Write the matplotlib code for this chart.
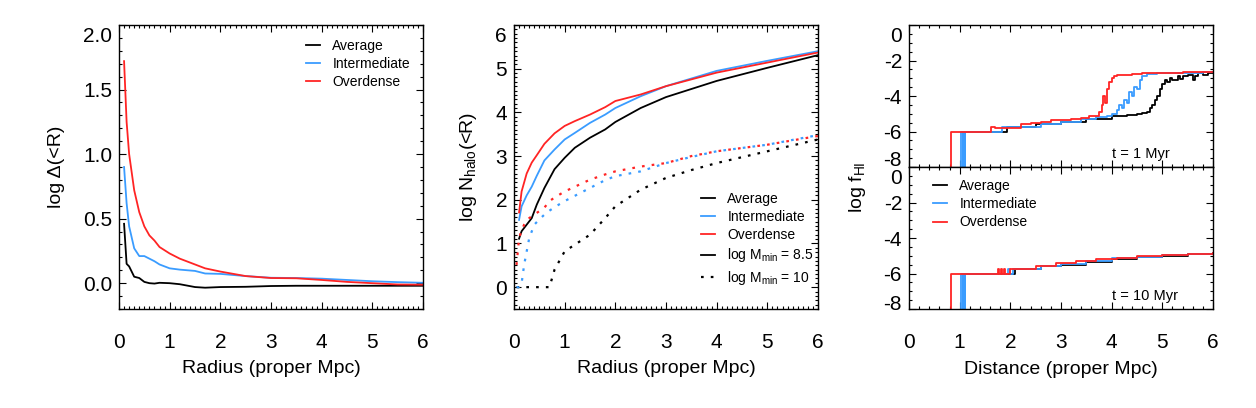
import matplotlib
matplotlib.use("Agg")
import matplotlib.pyplot as plt
from matplotlib.ticker import MultipleLocator, FuncFormatter
from matplotlib.transforms import ScaledTranslation

plt.rcParams['font.family'] = ['Liberation Sans', 'DejaVu Sans']
plt.rcParams['mathtext.fontset'] = 'custom'
plt.rcParams['mathtext.rm'] = 'Liberation Sans'
plt.rcParams['mathtext.it'] = 'Liberation Sans:italic'
plt.rcParams['axes.unicode_minus'] = False

RED = '#ff2424'
BLUE = '#3a9cff'
BLACK = 'black'
labels = ["Average", "Intermediate", "Overdense"]

# panel 1: log Delta(<R)
r1 = [0.1, 0.15, 0.2, 0.3, 0.4, 0.5, 0.6, 0.7, 0.8, 1.0, 1.2, 1.5, 1.7, 2.0, 2.5, 3.0, 3.5, 4.0, 4.5, 5.0, 5.5, 6.0]
d_avg = [0.46, 0.15, 0.13, 0.05, 0.04, 0.01, 0.0, -0.003, 0.003, 0.0, -0.008, -0.03, -0.035, -0.03, -0.028, -0.022, -0.02, -0.02, -0.02, -0.02, -0.02, -0.02]
d_int = [0.90, 0.62, 0.44, 0.27, 0.21, 0.21, 0.19, 0.17, 0.145, 0.115, 0.105, 0.095, 0.075, 0.072, 0.055, 0.042, 0.04, 0.035, 0.025, 0.015, 0.008, 0.003]
d_ovd = [1.72, 1.25, 1.00, 0.72, 0.55, 0.44, 0.37, 0.33, 0.28, 0.23, 0.19, 0.145, 0.115, 0.09, 0.055, 0.04, 0.038, 0.025, 0.01, 0.0, -0.01, -0.012]

# panel 2: log N_halo(<R)
r2 = [0.1, 0.15, 0.25, 0.35, 0.45, 0.6, 0.8, 1.0, 1.2, 1.5, 1.8, 2.0, 2.5, 3.0, 4.0, 5.0, 6.0]
n_avg = [1.11, 1.28, 1.43, 1.58, 1.89, 2.27, 2.70, 2.96, 3.19, 3.42, 3.61, 3.78, 4.10, 4.35, 4.72, 5.02, 5.31]
n_int = [1.54, 1.85, 2.10, 2.30, 2.55, 2.90, 3.15, 3.38, 3.53, 3.76, 3.95, 4.10, 4.37, 4.60, 4.95, 5.18, 5.40]
n_ovd = [1.71, 2.19, 2.60, 2.85, 3.02, 3.28, 3.52, 3.69, 3.80, 3.95, 4.12, 4.26, 4.41, 4.60, 4.91, 5.14, 5.37]
r2d = [0.05, 0.1, 0.15, 0.2, 0.3, 0.4, 0.5, 0.6, 0.7, 0.8, 1.0, 1.5, 1.8, 2.0, 2.5, 3.0, 3.5, 4.0, 5.0, 6.0]
n10_avg = [0, 0, 0, 0, 0, 0, 0, 0, 0, 0.40, 0.82, 1.20, 1.58, 1.85, 2.23, 2.50, 2.68, 2.84, 3.11, 3.38]
n10_int = [0, 0, 0.09, 0.51, 1.12, 1.43, 1.55, 1.66, 1.75, 1.83, 1.97, 2.27, 2.45, 2.54, 2.65, 2.84, 2.98, 3.11, 3.26, 3.48]
n10_ovd = [0.51, 1.12, 1.30, 1.43, 1.58, 1.66, 1.74, 1.82, 1.97, 2.05, 2.19, 2.46, 2.58, 2.65, 2.76, 2.84, 3.00, 3.11, 3.26, 3.46]

# panel 3 top: log f_HI at t = 1 Myr
x1_avg = [1.1, 1.1, 1.93, 2.5, 3.0, 3.5, 4.0, 4.3, 4.5, 4.6, 4.7, 4.75, 4.8, 4.85, 4.9, 4.95, 5.0, 5.05, 5.1, 5.15, 5.2, 5.3, 5.35, 5.4, 5.5, 5.6, 5.65, 5.7, 5.8, 5.9, 6.0]
f1_avg = [-9, -6.0, -5.75, -5.6, -5.45, -5.3, -5.15, -5.05, -5.0, -4.95, -4.9, -4.7, -4.5, -4.2, -4.0, -3.6, -3.3, -3.1, -3.2, -3.0, -3.1, -2.9, -3.05, -2.85, -2.8, -3.1, -2.9, -2.7, -2.8, -2.7, -2.65]
x1_int = [1.02, 1.02, 1.06, 1.06, 1.10, 1.10, 1.84, 2.6, 3.0, 3.4, 3.7, 3.9, 4.0, 4.1, 4.15, 4.2, 4.25, 4.3, 4.35, 4.4, 4.45, 4.5, 4.55, 4.6, 4.7, 4.9, 5.2, 5.5, 5.8, 6.0]
f1_int = [-9, -6.0, -9, -6.0, -9, -6.0, -5.75, -5.55, -5.45, -5.3, -5.2, -5.1, -5.0, -4.8, -4.5, -4.7, -4.2, -4.4, -3.8, -4.0, -3.5, -3.6, -3.1, -2.9, -2.75, -2.72, -2.7, -2.68, -2.65, -2.65]
x1_ovd = [0.82, 0.82, 1.62, 1.70, 2.22, 2.4, 2.6, 2.8, 3.0, 3.2, 3.4, 3.55, 3.65, 3.75, 3.80, 3.83, 3.86, 3.9, 3.95, 4.0, 4.05, 4.1, 4.2, 4.4, 4.6, 4.8, 5.0, 5.2, 5.4, 5.6, 5.8, 6.0]
f1_ovd = [-9, -6.0, -5.75, -5.8, -5.55, -5.5, -5.45, -5.38, -5.35, -5.3, -5.22, -5.15, -5.1, -4.9, -4.5, -4.0, -4.4, -3.6, -3.2, -3.0, -2.85, -2.8, -2.8, -2.75, -2.72, -2.7, -2.72, -2.68, -2.62, -2.65, -2.62, -2.65]

# panel 3 bottom: log f_HI at t = 10 Myr
x10_avg = [1.1, 1.1, 2.1, 2.6, 3.0, 3.5, 4.0, 4.5, 5.0, 5.5, 6.0]
f10_avg = [-9, -6.0, -5.75, -5.6, -5.5, -5.35, -5.2, -5.08, -5.0, -4.92, -4.85]
x10_int = [1.03, 1.03, 1.07, 1.07, 1.10, 1.10, 1.95, 2.0, 2.05, 2.6, 3.0, 3.5, 4.0, 4.5, 5.0, 5.5, 6.0]
f10_int = [-9, -6.0, -9, -6.0, -9, -6.0, -5.75, -6.0, -5.75, -5.55, -5.45, -5.3, -5.15, -5.05, -4.98, -4.9, -4.85]
x10_ovd = [0.82, 0.82, 1.75, 1.78, 1.81, 1.84, 1.87, 1.9, 2.0, 2.5, 2.9, 3.3, 3.7, 4.1, 4.5, 5.0, 5.5, 6.0]
f10_ovd = [-9, -6.0, -5.75, -6.0, -5.75, -6.0, -5.75, -6.0, -5.75, -5.55, -5.4, -5.3, -5.2, -5.1, -5.02, -4.95, -4.88, -4.82]

fig = plt.figure(figsize=(12.56, 4.08), dpi=100)
W, H = 1256.0, 408.0
TICKFS = 15
YPAD = 5


def axes_px(x0, y0, x1, y1):
    return fig.add_axes([x0 / W, 1 - y1 / H, (x1 - x0) / W, (y1 - y0) / H])


def style(ax, xminor, ymajor, yminor, showx=True):
    ax.set_xlim(0, 6)
    ax.xaxis.set_major_locator(MultipleLocator(1))
    ax.xaxis.set_minor_locator(MultipleLocator(xminor))
    ax.yaxis.set_major_locator(MultipleLocator(ymajor))
    ax.yaxis.set_minor_locator(MultipleLocator(yminor))
    ax.tick_params(which='both', direction='in', top=True, right=True, width=0.8)
    ax.tick_params(which='major', length=5, labelsize=TICKFS)
    ax.tick_params(which='minor', length=2.5)
    ax.tick_params(axis='x', pad=17)
    ax.tick_params(axis='y', pad=YPAD)
    if not showx:
        ax.tick_params(axis='x', labelbottom=False)
    for s in ax.spines.values():
        s.set_linewidth(1.0)


def edge_labels(ax, fmt, moved):
    # y labels at the frame edges are drawn nudged inside, as in the original
    ax.yaxis.set_major_formatter(FuncFormatter(
        lambda v, p: '' if any(abs(v - m) < 1e-9 for m, _ in moved) else fmt % v))
    base = ax.get_yaxis_text1_transform(YPAD)[0]
    for val, dy in moved:
        ax.text(0, val, fmt % val, fontsize=TICKFS, ha='right', va='center',
                transform=base + ScaledTranslation(0, dy / 100.0, fig.dpi_scale_trans))


# panel 1
ax1 = axes_px(119, 25, 423, 309)
ax1.plot(r1, d_avg, color=BLACK, lw=1.3, label=labels[0])
ax1.plot(r1, d_int, color=BLUE, lw=1.3, label=labels[1])
ax1.plot(r1, d_ovd, color=RED, lw=1.3, label=labels[2])
ax1.set_ylim(-0.2, 2.0)
style(ax1, 0.1, 0.5, 0.1)
edge_labels(ax1, '%.1f', [(2.0, -12)])
ax1.set_xlabel("Radius (proper Mpc)", fontsize=14, va='center')
ax1.xaxis.set_label_coords(0.5, -0.211)
ax1.set_ylabel("log \u0394(<R)", fontsize=14, va='center')
ax1.yaxis.set_label_coords(-0.204, 0.5)
ax1.legend(loc='upper left', bbox_to_anchor=(0.615, 0.951), frameon=False, fontsize=10,
           handlelength=1.0, handletextpad=0.9, labelspacing=0.3, borderpad=0, borderaxespad=0)

# panel 2
ax2 = axes_px(514, 25, 818, 309)
ax2.plot(r2, n_avg, color=BLACK, lw=1.3, label=labels[0])
ax2.plot(r2, n_int, color=BLUE, lw=1.3, label=labels[1])
ax2.plot(r2, n_ovd, color=RED, lw=1.3, label=labels[2])
dot = (0, (1.2, 3.2))
ax2.plot(r2d, n10_avg, color=BLACK, lw=1.6, ls=dot)
ax2.plot(r2d, n10_int, color=BLUE, lw=1.6, ls=dot)
ax2.plot(r2d, n10_ovd, color=RED, lw=1.6, ls=dot)
ax2.plot([], [], color=BLACK, lw=1.3, label="log M$_\\mathregular{min}$ = 8.5")
ax2.plot([], [], color=BLACK, lw=1.6, ls=dot, label="log M$_\\mathregular{min}$ = 10")
ax2.set_ylim(-0.5, 6.0)
style(ax2, 0.1, 1, 0.1)
edge_labels(ax2, '%d', [(6, -12)])
ax2.set_xlabel("Radius (proper Mpc)", fontsize=14, va='center')
ax2.xaxis.set_label_coords(0.5, -0.211)
ax2.set_ylabel("log N$_\\mathregular{halo}$(<R)", fontsize=14, va='center')
ax2.yaxis.set_label_coords(-0.151, 0.5)
ax2.legend(loc='upper left', bbox_to_anchor=(0.615, 0.412), frameon=False, fontsize=10,
           handlelength=1.0, handletextpad=0.9, labelspacing=0.3, borderpad=0, borderaxespad=0)

# panel 3
ax3 = axes_px(909, 25, 1213, 167)
ax4 = axes_px(909, 167, 1213, 309)
for ax, xs, fs in ((ax3, (x1_avg, x1_int, x1_ovd), (f1_avg, f1_int, f1_ovd)),
                   (ax4, (x10_avg, x10_int, x10_ovd), (f10_avg, f10_int, f10_ovd))):
    for x, f, c, lab in zip(xs, fs, (BLACK, BLUE, RED), labels):
        ax.plot(x, f, color=c, lw=1.3, drawstyle='steps-post', label=lab)
    ax.set_ylim(-8, 0)
style(ax3, 0.2, 2, 0.5, showx=False)
style(ax4, 0.2, 2, 0.5)
edge_labels(ax3, '%d', [(0, -11), (-8, 7)])
edge_labels(ax4, '%d', [(0, -11), (-8, 5)])
ax3.text(0.668, 0.092, "t = 1 Myr", transform=ax3.transAxes, fontsize=10.5, va='center')
ax4.text(0.668, 0.092, "t = 10 Myr", transform=ax4.transAxes, fontsize=10.5, va='center')
ax4.set_xlabel("Distance (proper Mpc)", fontsize=14, va='center')
ax4.xaxis.set_label_coords(0.5, -0.423)
fig.text(858 / W, 1 - 187 / H, "log f$_\\mathregular{HI}$", rotation=90, fontsize=14,
         ha='center', va='center')
ax4.legend(loc='upper left', bbox_to_anchor=(0.079, 0.915), frameon=False, fontsize=10,
           handlelength=1.0, handletextpad=0.9, labelspacing=0.3, borderpad=0, borderaxespad=0)

fig.savefig("out.png", dpi=100)
